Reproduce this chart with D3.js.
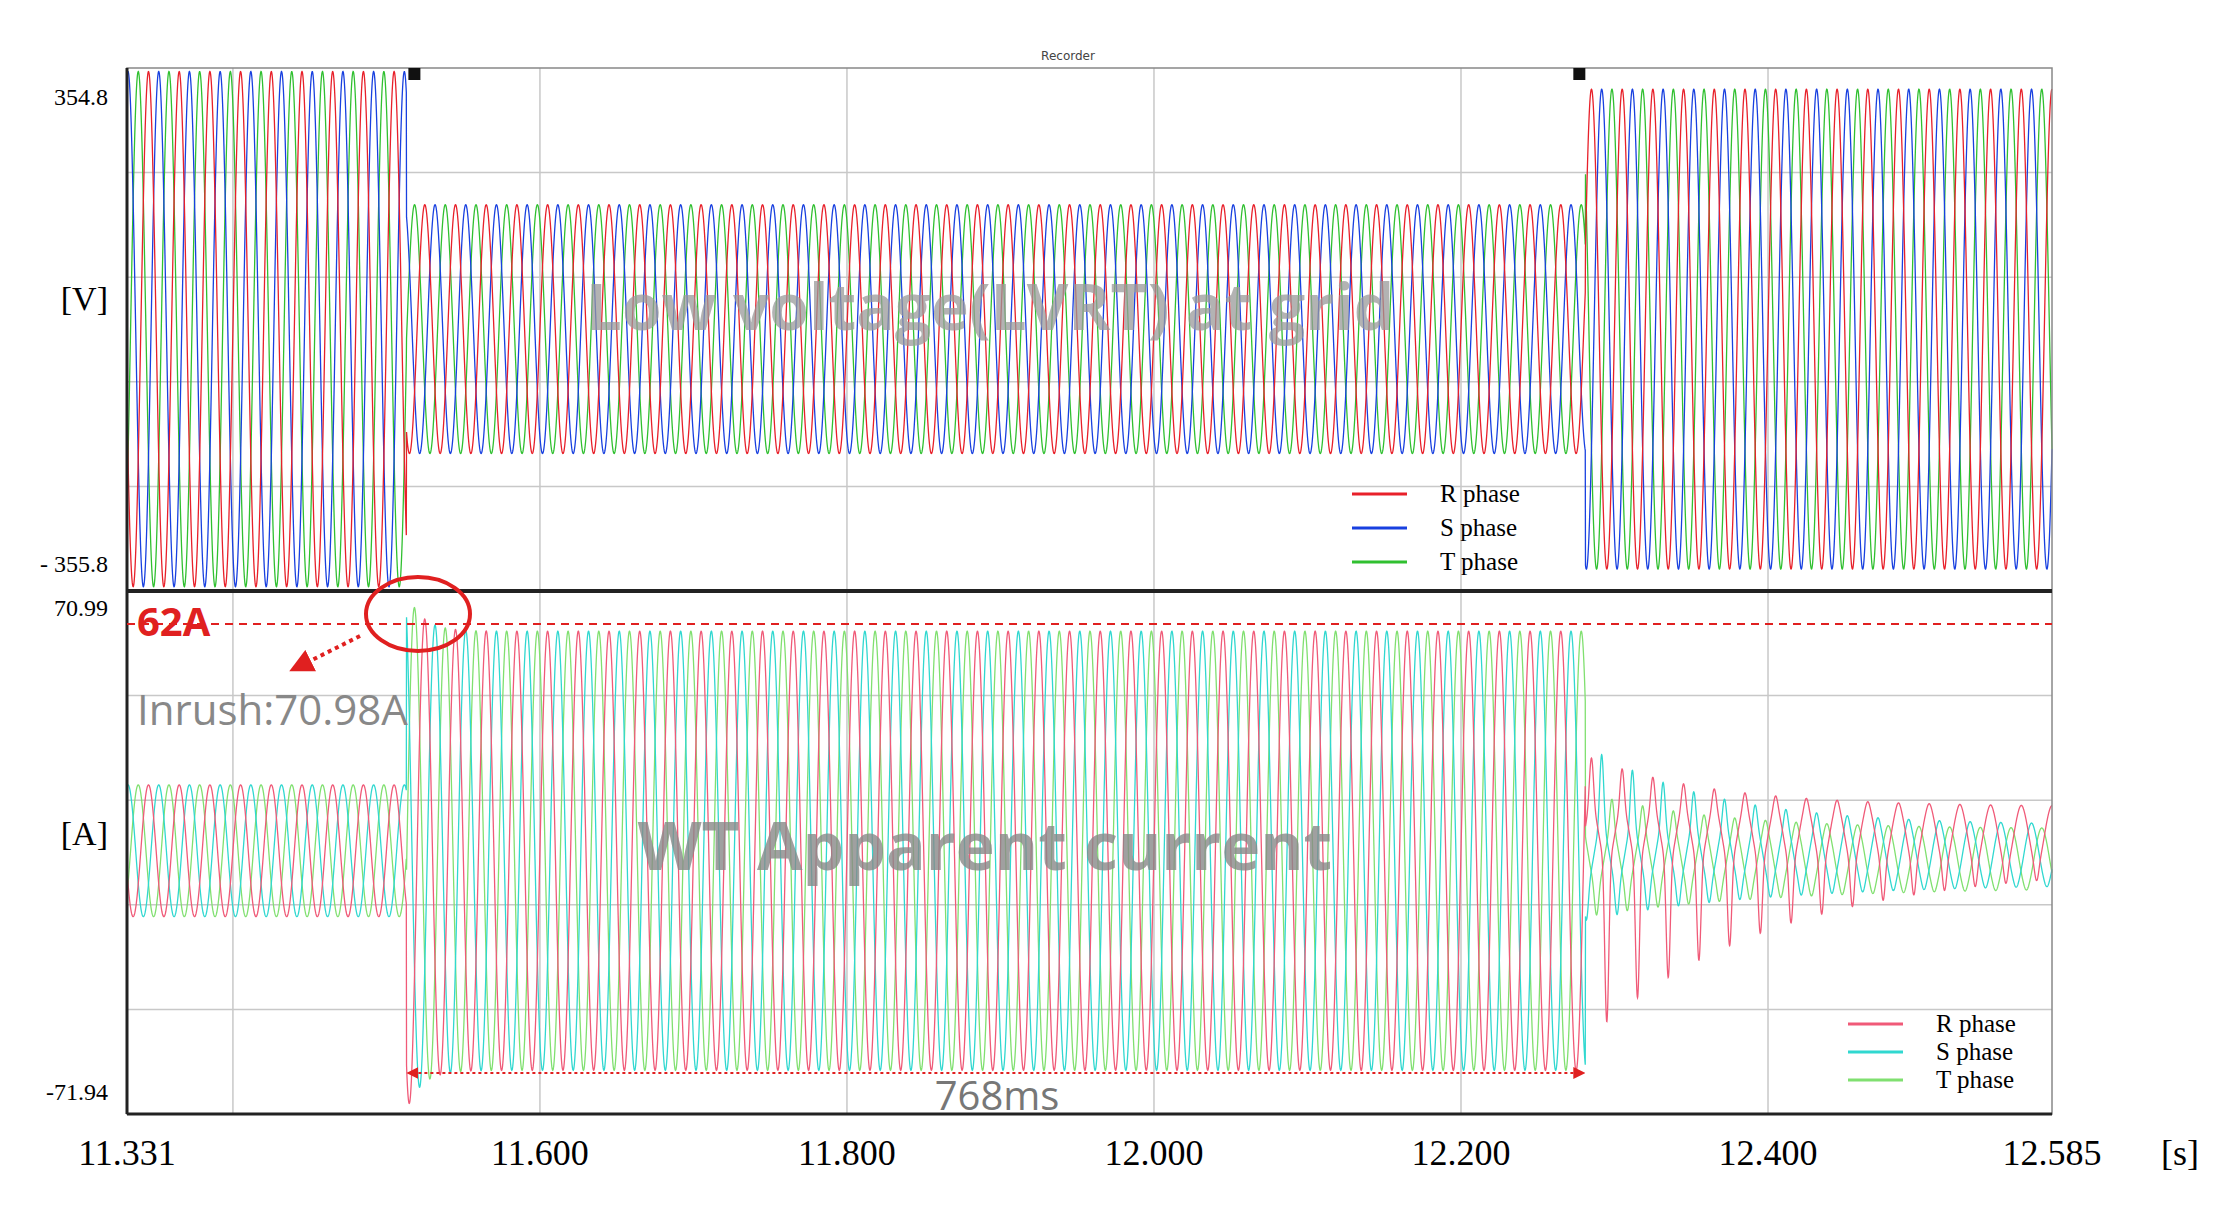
<!DOCTYPE html>
<html><head><meta charset="utf-8">
<script src="https://cdn.jsdelivr.net/npm/d3@7"></script>
<style>body{margin:0;background:#fff}</style>
</head><body>
<div id="chart"></div>
<script>
// data
var xTicks = [11.331, 11.600, 11.800, 12.000, 12.200, 12.400, 12.585];
var xGrid = [11.4, 11.6, 11.8, 12.0, 12.2, 12.4];
var vRange = [-355.8, 354.8];
var aRange = [-71.94, 70.99];
var faultTimes = [11.331, 11.513, 12.281, 12.585];   // start, fault, recovery, end
var voltAmp = [350, 169, 326];                      // phase voltage peak per segment
var currAmp = [18, 60, 8];                          // current peak per segment
var inrushPeak = 70.98;
var limitLine = 62;
var phaseNames = ["R phase", "S phase", "T phase"];
var voltColors = ["#e8202a", "#1840e0", "#30c030"];
var currColors = ["#f05a78", "#30d8d0", "#80e070"];
var freq = 50;

var W = 2219, H = 1211;
var L = 127, R = 2052, T = 68, M = 591, B = 1114;

var svg = d3.select("#chart").append("svg").attr("width", W).attr("height", H)
  .style("font-family", "'Liberation Serif', serif");

var x = d3.scaleLinear().domain([xTicks[0], xTicks[xTicks.length - 1]]).range([L, R]);
var yV = d3.scaleLinear().domain(vRange).range([M, T]);
var yA = d3.scaleLinear().domain(aRange).range([B, M]);

// grid
function grid(top, bot) {
  svg.append("g").selectAll("line").data(xGrid).join("line")
    .attr("x1", d => x(d)).attr("x2", d => x(d)).attr("y1", top).attr("y2", bot)
    .attr("stroke", "#c8c8c8").attr("stroke-width", 1.5);
  svg.append("g").selectAll("line").data(d3.range(1, 5)).join("line")
    .attr("x1", L).attr("x2", R)
    .attr("y1", d => top + (bot - top) * d / 5).attr("y2", d => top + (bot - top) * d / 5)
    .attr("stroke", "#c8c8c8").attr("stroke-width", 1.5);
}
grid(T, M); grid(M, B);

// waveforms
var w = 2 * Math.PI * freq;
var ts = d3.range(faultTimes[0], faultTimes[3], 0.00015);
function seg(t) { return t < faultTimes[1] ? 0 : (t < faultTimes[2] ? 1 : 2); }
var tf = faultTimes[1], tr = faultTimes[2];

function volt(t, k) {
  return voltAmp[seg(t)] * Math.sin(w * t - k * 2 * Math.PI / 3);
}
function curr(t, k) {
  var s = seg(t), ph = w * t - k * 2 * Math.PI / 3, sn = Math.sin(ph);
  if (s === 0) return currAmp[0] * sn;
  if (s === 1) {
    var a = currAmp[1] + (inrushPeak - currAmp[1]) * Math.exp(-(t - tf) / 0.01);
    return a * sn;
  }
  var dt = t - tr;
  var offs = [4, -1, -2][k];
  var neg = [-48, -10, -8][k] * Math.exp(-dt / 0.12) * Math.pow(Math.max(0, -sn), 6);
  var pos = [14, 22, 10][k] * Math.exp(-dt / 0.08) * Math.pow(Math.max(0, sn), 6);
  return offs + currAmp[2] * sn + neg + pos;
}

[2, 1, 0].forEach(function (k) {
  svg.append("path").datum(ts)
    .attr("fill", "none").attr("stroke", voltColors[k]).attr("stroke-width", 1.3)
    .attr("d", d3.line().x(d => x(d)).y(d => yV(volt(d, k))));
});
[2, 1, 0].forEach(function (k) {
  svg.append("path").datum(ts)
    .attr("fill", "none").attr("stroke", currColors[k]).attr("stroke-width", 1.3)
    .attr("d", d3.line().x(d => x(d)).y(d => yA(curr(d, k))));
});

// frame
svg.append("rect").attr("x", L).attr("y", T).attr("width", R - L).attr("height", B - T)
  .attr("fill", "none").attr("stroke", "#888").attr("stroke-width", 1.5);
svg.append("line").attr("x1", L).attr("x2", R).attr("y1", M).attr("y2", M)
  .attr("stroke", "#222").attr("stroke-width", 4);
svg.append("line").attr("x1", L).attr("x2", L).attr("y1", T).attr("y2", B)
  .attr("stroke", "#222").attr("stroke-width", 3);
svg.append("line").attr("x1", L).attr("x2", R).attr("y1", B).attr("y2", B)
  .attr("stroke", "#222").attr("stroke-width", 3);
// cursors
[tf, tr].forEach(function (c, i) {
  svg.append("rect").attr("x", x(c) + (i ? -12 : 2)).attr("y", T).attr("width", 12).attr("height", 12)
    .attr("fill", "#111");
});
svg.append("text").attr("x", 1068).attr("y", 60).attr("text-anchor", "middle")
  .attr("font-size", 12).attr("font-family", "DejaVu Sans").attr("fill", "#444").text("Recorder");

// axis labels
svg.append("g").selectAll("text").data(xTicks).join("text")
  .attr("x", d => x(d)).attr("y", 1165).attr("text-anchor", "middle")
  .attr("font-size", 36).text(d => d3.format(".3f")(d));
svg.append("text").attr("x", 2180).attr("y", 1165).attr("text-anchor", "middle").attr("font-size", 36).text("[s]");
var yl = [["354.8", 105, 24], ["[V]", 310, 34], ["- 355.8", 572, 24],
          ["70.99", 616, 24], ["[A]", 845, 34], ["-71.94", 1100, 24]];
yl.forEach(function (d) {
  svg.append("text").attr("x", 108).attr("y", d[1]).attr("text-anchor", "end")
    .attr("font-size", d[2]).text(d[0]);
});

// legends
function legend(x0, y0, dy, cols) {
  phaseNames.forEach(function (n, i) {
    svg.append("line").attr("x1", x0).attr("x2", x0 + 55).attr("y1", y0 + i * dy).attr("y2", y0 + i * dy)
      .attr("stroke", cols[i]).attr("stroke-width", 3);
    svg.append("text").attr("x", x0 + 88).attr("y", y0 + i * dy + 8).attr("font-size", 25).text(n);
  });
}
legend(1352, 494, 34, voltColors);
legend(1848, 1024, 28, currColors);

// annotations
svg.append("text").attr("x", 990).attr("y", 330).attr("text-anchor", "middle")
  .attr("font-family", "'Open Sans', sans-serif").attr("font-size", 64).attr("font-weight", "bold")
  .attr("fill", "#999").attr("fill-opacity", 0.75).text("Low voltage(LVRT) at grid");
svg.append("text").attr("x", 985).attr("y", 870).attr("text-anchor", "middle")
  .attr("font-family", "'Open Sans', sans-serif").attr("font-size", 66).attr("font-weight", "bold")
  .attr("fill", "#888").attr("fill-opacity", 0.8).text("WT Apparent current");

svg.append("line").attr("x1", L).attr("x2", R).attr("y1", yA(limitLine)).attr("y2", yA(limitLine))
  .attr("stroke", "#e02020").attr("stroke-width", 2).attr("stroke-dasharray", "8,6");
svg.append("text").attr("x", 137).attr("y", 636).attr("font-family", "'Open Sans', sans-serif")
  .attr("font-size", 40).attr("font-weight", "bold").attr("fill", "#e02020").text("62A");
svg.append("ellipse").attr("cx", 418).attr("cy", 614).attr("rx", 52).attr("ry", 37)
  .attr("fill", "none").attr("stroke", "#e02020").attr("stroke-width", 4);
svg.append("defs").html('<marker id="ah" viewBox="0 0 10 10" refX="5" refY="5" markerWidth="6" markerHeight="6" orient="auto-start-reverse"><path d="M0,0L10,5L0,10z" fill="#e02020"/></marker>');
svg.append("line").attr("x1", 360).attr("y1", 636).attr("x2", 300).attr("y2", 666)
  .attr("stroke", "#e02020").attr("stroke-width", 4).attr("stroke-dasharray", "4,4")
  .attr("marker-end", "url(#ah)");
svg.append("text").attr("x", 137).attr("y", 725).attr("font-family", "'Open Sans', sans-serif")
  .attr("font-size", 42).attr("fill", "#888").text("Inrush:70.98A");
svg.append("line").attr("x1", x(tf) + 6).attr("x2", x(tr) - 6).attr("y1", 1073).attr("y2", 1073)
  .attr("stroke", "#e02020").attr("stroke-width", 2).attr("stroke-dasharray", "3,3")
  .attr("marker-start", "url(#ah)").attr("marker-end", "url(#ah)");
svg.append("text").attr("x", 997).attr("y", 1110).attr("text-anchor", "middle")
  .attr("font-family", "'Open Sans', sans-serif").attr("font-size", 40).attr("fill", "#777").text("768ms");
</script>
</body></html>
